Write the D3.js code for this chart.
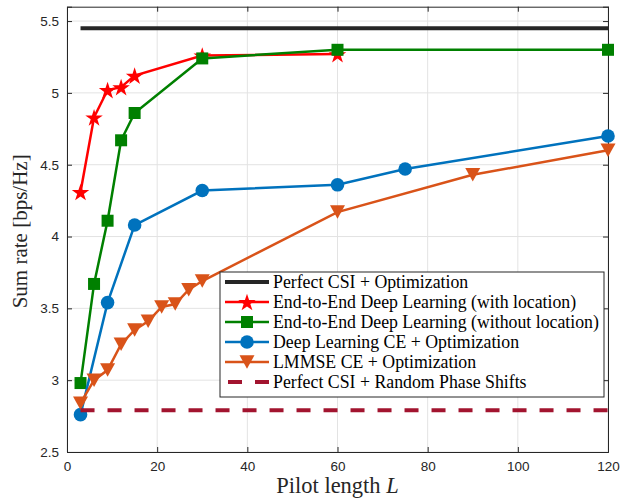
<!DOCTYPE html>
<html>
<head>
<meta charset="utf-8">
<script src="https://cdn.jsdelivr.net/npm/d3@7"></script>
<style>
  html, body { margin: 0; padding: 0; background: #fff; }
  svg { display: block; }
</style>
</head>
<body>
<svg id="chart" width="636" height="503"></svg>
<script>
// Pilot lengths and sum rates for each scheme
const perfectX = [3, 120];
const perfectY = [5.45, 5.45];

const e2eLocX = [3, 6, 9, 12, 15, 30, 60];
const e2eLocY = [4.31, 4.83, 5.02, 5.04, 5.12, 5.26, 5.27];

const e2eNoLocX = [3, 6, 9, 12, 15, 30, 60, 120];
const e2eNoLocY = [2.98, 3.67, 4.11, 4.67, 4.86, 5.24, 5.30, 5.30];

const dlCeX = [3, 9, 15, 30, 60, 75, 120];
const dlCeY = [2.76, 3.54, 4.08, 4.32, 4.36, 4.47, 4.70];

const lmmseX = [3, 6, 9, 12, 15, 18, 21, 24, 27, 30, 60, 90, 120];
const lmmseY = [2.84, 3.00, 3.07, 3.25, 3.35, 3.41, 3.51, 3.53, 3.63, 3.69, 4.17, 4.43, 4.60];

const randomX = [3, 120];
const randomY = [2.79, 2.79];

const xTicks = [0, 20, 40, 60, 80, 100, 120];
const yTicks = [2.5, 3, 3.5, 4, 4.5, 5, 5.5];

const legendLabels = [
  "Perfect CSI + Optimization",
  "End-to-End Deep Learning (with location)",
  "End-to-End Deep Learning (without location)",
  "Deep Learning CE + Optimization",
  "LMMSE CE + Optimization",
  "Perfect CSI + Random Phase Shifts"
];

const svg = d3.select("#chart");
const pLeft = 67, pRight = 608, pTop = 6.7, pBottom = 452;
const x = d3.scaleLinear().domain([0, 120]).range([pLeft, pRight]);
const y = d3.scaleLinear().domain([2.5, 5.6]).range([pBottom, pTop]);

const axisColor = "#262626";
const tickFont = '"Liberation Sans", Arial, sans-serif';
const serif = '"Liberation Serif", "Times New Roman", serif';

// grid
const grid = svg.append("g");
grid.selectAll("line.gx").data(xTicks).join("line")
  .attr("x1", d => x(d)).attr("x2", d => x(d))
  .attr("y1", pTop).attr("y2", pBottom)
  .attr("stroke", "#e3e3e3").attr("stroke-width", 1);
grid.selectAll("line.gy").data(yTicks).join("line")
  .attr("y1", d => y(d)).attr("y2", d => y(d))
  .attr("x1", pLeft).attr("x2", pRight)
  .attr("stroke", "#e3e3e3").attr("stroke-width", 1);

// axes (ticks inward, box on all sides)
const tickLen = 5;
const xAxisB = d3.axisBottom(x).tickValues(xTicks).tickSize(-tickLen).tickPadding(9).tickFormat(d3.format("d"));
const xAxisT = d3.axisTop(x).tickValues(xTicks).tickSize(-tickLen).tickFormat("");
const yAxisL = d3.axisLeft(y).tickValues(yTicks).tickSize(-tickLen).tickPadding(8).tickFormat(d => d3.format("")(d));
const yAxisR = d3.axisRight(y).tickValues(yTicks).tickSize(-tickLen).tickFormat("");

function styleAxis(g) {
  g.select(".domain").attr("stroke", axisColor).attr("stroke-width", 1);
  g.selectAll(".tick line").attr("stroke", axisColor);
  g.selectAll(".tick text").attr("fill", axisColor)
    .style("font-family", tickFont).style("font-size", "13.5px");
}
svg.append("g").attr("transform", `translate(0,${pBottom})`).call(xAxisB).call(styleAxis);
svg.append("g").attr("transform", `translate(0,${pTop})`).call(xAxisT).call(styleAxis);
svg.append("g").attr("transform", `translate(${pLeft},0)`).call(yAxisL).call(styleAxis);
svg.append("g").attr("transform", `translate(${pRight},0)`).call(yAxisR).call(styleAxis);

// markers
function starPath(R) {
  const r = R * 0.382;
  const pts = [];
  for (let i = 0; i < 10; i++) {
    const a = -Math.PI / 2 + i * Math.PI / 5;
    const rr = i % 2 === 0 ? R : r;
    pts.push([rr * Math.cos(a), rr * Math.sin(a) + R * 0.1]);
  }
  return "M" + pts.map(p => p.join(",")).join("L") + "Z";
}
function triPath(w, h) {
  return `M${-w/2},${-h/2}L${w/2},${-h/2}L0,${h/2}Z`;
}
const markers = {
  star: g => g.append("path").attr("d", starPath(9.2)),
  square: g => g.append("rect").attr("x", -6).attr("y", -6).attr("width", 12).attr("height", 12),
  circle: g => g.append("circle").attr("r", 6.8),
  tri: g => g.append("path").attr("d", triPath(15, 13.5))
};

const series = [
  { xs: perfectX, ys: perfectY, color: "#262626", width: 4, dash: null, marker: null },
  { xs: e2eLocX, ys: e2eLocY, color: "#ff0000", width: 2.5, dash: null, marker: "star" },
  { xs: e2eNoLocX, ys: e2eNoLocY, color: "#008000", width: 2.5, dash: null, marker: "square" },
  { xs: dlCeX, ys: dlCeY, color: "#0072BD", width: 2.5, dash: null, marker: "circle" },
  { xs: lmmseX, ys: lmmseY, color: "#D95319", width: 2.5, dash: null, marker: "tri" },
  { xs: randomX, ys: randomY, color: "#A2142F", width: 4, dash: "14,13", marker: null }
];

const line = d3.line().x(d => x(d[0])).y(d => y(d[1]));
const plot = svg.append("g");
series.forEach(s => {
  const pts = s.xs.map((v, i) => [v, s.ys[i]]);
  const g = plot.append("g");
  g.append("path").attr("d", line(pts)).attr("fill", "none")
    .attr("stroke", s.color).attr("stroke-width", s.width)
    .attr("stroke-dasharray", s.dash);
  if (s.marker) {
    pts.forEach(p => {
      const m = g.append("g").attr("transform", `translate(${x(p[0])},${y(p[1])})`);
      markers[s.marker](m).attr("fill", s.color);
    });
  }
});

// legend
const lg = svg.append("g");
const lx0 = 220, ly0 = 272, lw = 384, lh = 125;
lg.append("rect").attr("x", lx0).attr("y", ly0).attr("width", lw).attr("height", lh)
  .attr("fill", "#fff").attr("stroke", axisColor).attr("stroke-width", 1);
series.forEach((s, i) => {
  const cy = 282 + i * 20;
  const row = lg.append("g");
  row.append("line").attr("x1", 225).attr("x2", 269).attr("y1", cy).attr("y2", cy)
    .attr("stroke", s.color).attr("stroke-width", s.width)
    .attr("stroke-dasharray", s.dash ? "14,13" : null)
    .attr("stroke-dashoffset", s.dash ? -3 : null);
  if (s.marker) {
    const m = row.append("g").attr("transform", `translate(247,${cy})`);
    markers[s.marker](m).attr("fill", s.color);
  }
  row.append("text").attr("x", 273).attr("y", cy + 5.5)
    .attr("fill", "#000").style("font-family", serif).style("font-size", "17.8px")
    .text(legendLabels[i]);
});

// axis titles
svg.append("text").attr("transform", `translate(27,${(pTop + pBottom) / 2 + 2}) rotate(-90)`)
  .attr("text-anchor", "middle").attr("fill", axisColor)
  .style("font-family", serif).style("font-size", "21px")
  .text("Sum rate [bps/Hz]");
const xt = svg.append("text").attr("x", (pLeft + pRight) / 2).attr("y", 493)
  .attr("text-anchor", "middle").attr("fill", axisColor)
  .style("font-family", serif).style("font-size", "22.5px");
xt.append("tspan").text("Pilot length ");
xt.append("tspan").style("font-style", "italic").text("L");
</script>
</body>
</html>
